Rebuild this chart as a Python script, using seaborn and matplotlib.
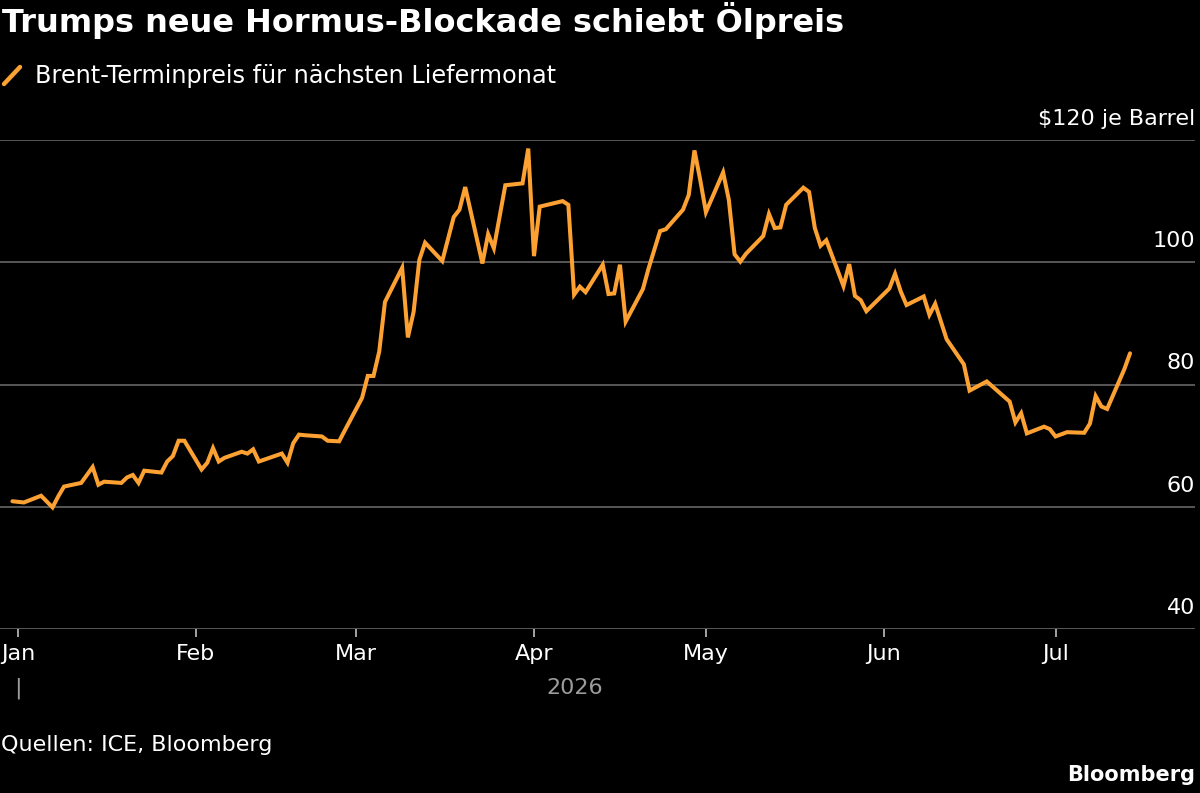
import matplotlib
matplotlib.use("Agg")
import matplotlib.pyplot as plt
import matplotlib.dates as mdates
import matplotlib.transforms as mtransforms
from matplotlib.lines import Line2D
import seaborn as sns
import pandas as pd

# ---------------- data ----------------
dates = [
    "2025-12-31", "2026-01-02", "2026-01-05", "2026-01-07", "2026-01-08", "2026-01-09",
    "2026-01-12", "2026-01-14", "2026-01-15", "2026-01-16", "2026-01-19", "2026-01-20",
    "2026-01-21", "2026-01-22", "2026-01-23", "2026-01-26", "2026-01-27", "2026-01-28",
    "2026-01-29", "2026-01-30", "2026-02-02", "2026-02-03", "2026-02-04", "2026-02-05",
    "2026-02-06", "2026-02-09", "2026-02-10", "2026-02-11", "2026-02-12", "2026-02-16",
    "2026-02-17", "2026-02-18", "2026-02-19", "2026-02-20", "2026-02-23", "2026-02-24",
    "2026-02-26", "2026-02-27", "2026-03-02", "2026-03-03", "2026-03-04", "2026-03-05",
    "2026-03-06", "2026-03-09", "2026-03-10", "2026-03-11", "2026-03-12", "2026-03-13",
    "2026-03-16", "2026-03-18", "2026-03-19", "2026-03-20", "2026-03-23", "2026-03-24",
    "2026-03-25", "2026-03-27", "2026-03-30", "2026-03-31", "2026-04-01", "2026-04-02",
    "2026-04-06", "2026-04-07", "2026-04-08", "2026-04-09", "2026-04-10", "2026-04-13",
    "2026-04-14", "2026-04-15", "2026-04-16", "2026-04-17", "2026-04-20", "2026-04-21",
    "2026-04-23", "2026-04-24", "2026-04-27", "2026-04-28", "2026-04-29", "2026-04-30",
    "2026-05-01", "2026-05-04", "2026-05-05", "2026-05-06", "2026-05-07", "2026-05-08",
    "2026-05-11", "2026-05-12", "2026-05-13", "2026-05-14", "2026-05-15", "2026-05-18",
    "2026-05-19", "2026-05-20", "2026-05-21", "2026-05-22", "2026-05-25", "2026-05-26",
    "2026-05-27", "2026-05-28", "2026-05-29", "2026-06-02", "2026-06-03", "2026-06-04",
    "2026-06-05", "2026-06-08", "2026-06-09", "2026-06-10", "2026-06-12", "2026-06-15",
    "2026-06-16", "2026-06-19", "2026-06-23", "2026-06-24", "2026-06-25", "2026-06-26",
    "2026-06-29", "2026-06-30", "2026-07-01", "2026-07-03", "2026-07-06", "2026-07-07",
    "2026-07-08", "2026-07-09", "2026-07-10", "2026-07-13", "2026-07-14",
]
brent = [
    60.9, 60.7, 61.8, 59.9, 61.7, 63.3,
    63.9, 66.5, 63.6, 64.1, 63.9, 64.8,
    65.2, 63.9, 65.9, 65.6, 67.4, 68.3,
    70.8, 70.8, 66.1, 67.2, 69.6, 67.4,
    68.0, 69.0, 68.7, 69.4, 67.4, 68.7,
    67.2, 70.4, 71.8, 71.7, 71.5, 70.8,
    70.7, 72.5, 77.8, 81.4, 81.4, 85.4,
    93.5, 99.1, 87.7, 91.9, 100.4, 103.2,
    100.2, 107.4, 108.6, 112.3, 99.8, 104.6,
    102.3, 112.6, 112.9, 118.6, 101.0, 109.1,
    110.0, 109.4, 94.7, 96.0, 95.1, 99.6,
    94.8, 94.9, 99.6, 90.3, 95.6, 99.0,
    105.1, 105.4, 108.6, 111.0, 118.3, 113.5,
    108.2, 114.7, 110.2, 101.3, 100.1, 101.4,
    104.3, 107.9, 105.6, 105.7, 109.4, 112.2,
    111.5, 105.6, 102.7, 103.6, 96.1, 99.7,
    94.5, 93.8, 92.0, 95.7, 98.1, 95.2,
    93.0, 94.4, 91.4, 93.2, 87.4, 83.3,
    79.0, 80.5, 77.2, 73.8, 75.3, 72.0,
    73.1, 72.7, 71.5, 72.2, 72.1, 73.6,
    78.1, 76.4, 76.0, 82.5, 85.1,
]
y_ticks = [40, 60, 80, 100, 120]
y_tick_labels = ["40", "60", "80", "100", "$120 je Barrel"]

title = "Trumps neue Hormus-Blockade schiebt Ölpreis"
series_name = "Brent-Terminpreis für nächsten Liefermonat"
source = "Quellen: ICE, Bloomberg"
year_label = "2026"

df = pd.DataFrame({"date": pd.to_datetime(dates), "price": brent})

# ---------------- style ----------------
BG = "#000000"
ORANGE = "#FDA232"
GRID = "#5e5e5e"
TEXT = "#ffffff"
SUB = "#9c9c9c"

sns.set_theme(style="dark")
plt.rcParams["font.family"] = ["DejaVu Sans"]

W, H = 1200, 793
fig = plt.figure(figsize=(W / 100, H / 100), dpi=100, facecolor=BG)

def fy(py):
    return 1 - py / H

ax_left, ax_right, ax_top, ax_bottom = 0, 1195, 140, 629
ax = fig.add_axes([ax_left / W, fy(ax_bottom), (ax_right - ax_left) / W, (ax_bottom - ax_top) / H])
ax.set_facecolor(BG)

sns.lineplot(data=df, x="date", y="price", ax=ax, color=ORANGE, linewidth=2.9,
             solid_joinstyle="miter", legend=False)

ax.set_ylim(40, 120)
ax.set_xlim(pd.Timestamp("2025-12-28 20:00"), pd.Timestamp("2026-07-25 08:00"))

for s in ax.spines.values():
    s.set_visible(False)

ax.set_yticks(y_ticks)
ax.set_yticklabels(y_tick_labels)
ax.yaxis.tick_right()
ax.grid(axis="y", color=GRID, linewidth=1.3)
ax.grid(axis="x", visible=False)
ax.tick_params(axis="y", length=0, pad=0, labelsize=16, labelcolor=TEXT,
               right=False, labelright=True)
offset = mtransforms.ScaledTranslation(0, 8 / 72, fig.dpi_scale_trans)
for lab in ax.get_yticklabels():
    lab.set_horizontalalignment("right")
    lab.set_verticalalignment("bottom")
    lab.set_transform(lab.get_transform() + offset)

ax.xaxis.set_major_locator(mdates.MonthLocator())
ax.xaxis.set_major_formatter(mdates.DateFormatter("%b"))
ax.tick_params(axis="x", length=6, width=1.1, color="#cfcfcf", pad=5,
               labelsize=16, labelcolor=TEXT, bottom=True)
ax.set_xlabel("")
ax.set_ylabel("")

# year marker
ax.annotate("|", xy=(mdates.date2num(pd.Timestamp("2026-01-01")), 0),
            xycoords=("data", "axes fraction"), xytext=(0, -59 * 0.72),
            textcoords="offset points", ha="center", va="center",
            fontsize=16, color=SUB)
fig.text(575 / W, fy(688), year_label, ha="center", va="center",
         fontsize=16, color=SUB)

# title and legend
fig.text(2 / W, fy(20), title, ha="left", va="center", fontsize=23,
         fontweight="bold", color=TEXT)
fig.add_artist(Line2D([4 / W, 20 / W], [fy(84), fy(67)], color=ORANGE,
                      linewidth=3.2, transform=fig.transFigure))
fig.text(35 / W, fy(76), series_name, ha="left", va="center", fontsize=17.3,
         color=TEXT)

# footer
fig.text(1 / W, fy(745), source, ha="left", va="center", fontsize=16, color=TEXT)
fig.text(1195 / W, fy(775), "Bloomberg", ha="right", va="center", fontsize=15,
         fontweight="bold", color=TEXT)

fig.savefig("out.png", dpi=100, facecolor=BG)
